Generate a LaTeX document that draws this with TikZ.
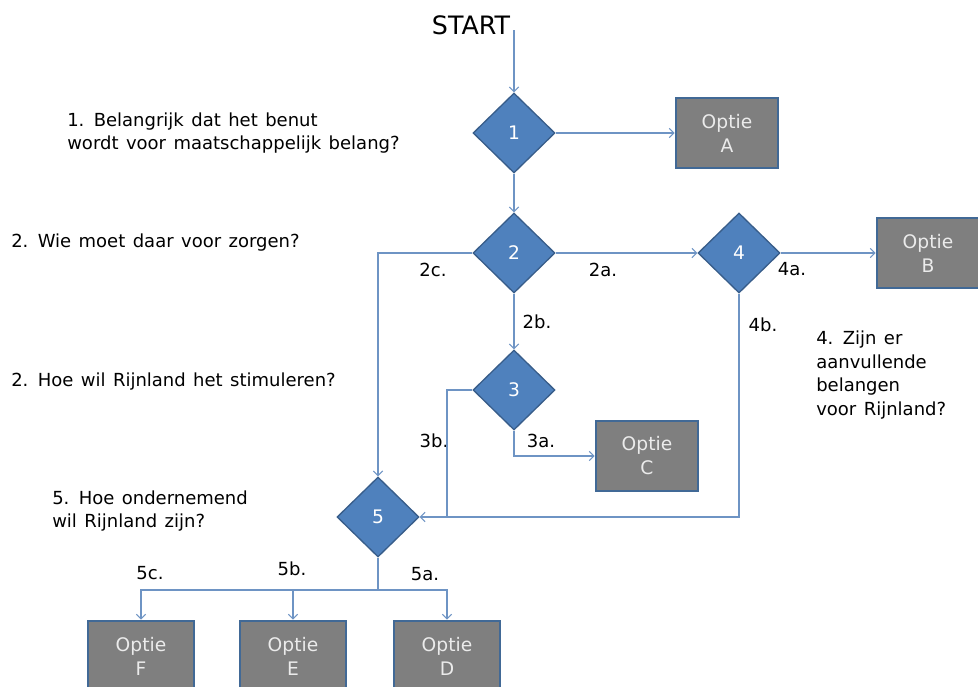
\documentclass[tikz,border=0pt]{standalone}
\usepackage{fontspec}
\setmainfont{DejaVu Sans}[WordSpace=1.3]
\usetikzlibrary{arrows, arrows.meta}
\usetikzlibrary{shapes.geometric}

\definecolor{vraagblauw}{RGB}{79,129,189}
\definecolor{vraagrand}{RGB}{56,93,138}
\definecolor{optiegrijs}{RGB}{127,127,127}
\definecolor{optierand}{RGB}{65,105,150}
\definecolor{lijnblauw}{RGB}{110,148,196}

\tikzset{
  vraag/.style={diamond, draw=vraagrand, fill=vraagblauw, line width=1pt, inner sep=0pt,
    minimum width=61.5pt, minimum height=60pt, text=white, font=\fontsize{14}{16}\selectfont},
  optie/.style={rectangle, draw=optierand, fill=optiegrijs, line width=1.5pt, inner sep=0pt,
    minimum width=77pt, minimum height=53pt, align=center, text=white!92!black,
    font=\fontsize{14}{18}\selectfont},
  tekst/.style={inner sep=0pt, align=left, font=\fontsize{13.5}{17.6}\selectfont},
  pijl/.style={draw=lijnblauw, line width=0.8pt, -{Straight Barb[length=3.5pt,width=7pt]}},
  lijn/.style={draw=lijnblauw, line width=0.8pt},
}

\begin{document}
\begin{tikzpicture}[x=0.75pt, y=-0.75pt]
    \useasboundingbox (0,0) rectangle (978,686);

    \node[inner sep=0pt, font=\fontsize{19}{21}\selectfont] (start) at (471,25) {START};
    \coordinate (s) at (514,30);

    \node[vraag] (1) at (514,133) {1};
    \node[vraag] (2) at (514,253) {2};
    \node[vraag] (3) at (514,390) {3};
    \node[vraag] (4) at (739,253) {4};
    \node[vraag] (5) at (378,517) {5};

    \node[optie] (A) at (727,133) {Optie\\A};
    \node[optie] (B) at (928,253) {Optie\\B};
    \node[optie] (C) at (647,456) {Optie\\C};
    \node[optie, minimum width=79pt] (F) at (141,656) {Optie\\F};
    \node[optie, minimum width=79pt] (E) at (293,656) {Optie\\E};
    \node[optie, minimum width=79pt] (D) at (447,656) {Optie\\D};

    \node[tekst, anchor=west] (q1) at (67,133) {1. Belangrijk dat het benut\\wordt voor maatschappelijk belang?};
    \node[tekst, anchor=west] (q2) at (11,243) {2. Wie moet daar voor zorgen?};
    \node[tekst, anchor=west] (q3) at (11,382) {2. Hoe wil Rijnland het stimuleren?};
    \node[tekst, anchor=west] (q4) at (816,375) {4. Zijn er\\aanvullende\\belangen\\voor Rijnland?};
    \node[tekst, anchor=west] (q5) at (52,511) {5. Hoe ondernemend\\wil Rijnland zijn?};

    \node[tekst] (l2a) at (603,270) {2a.};
    \node[tekst] (l2b) at (537,322) {2b.};
    \node[tekst] (l2c) at (433,270) {2c.};
    \node[tekst] (l3a) at (541,441) {3a.};
    \node[tekst] (l3b) at (434,441) {3b.};
    \node[tekst] (l4a) at (792,269) {4a.};
    \node[tekst] (l4b) at (763,325) {4b.};
    \node[tekst] (l5a) at (425,574) {5a.};
    \node[tekst] (l5b) at (292,569) {5b.};
    \node[tekst] (l5c) at (150,573) {5c.};

    \coordinate (m) at (447,517);
    \coordinate (v) at (378,590);

    \draw[pijl] (s) -- (1.north);
    \draw[pijl] (1.east) -- (A.west);
    \draw[pijl] (1.south) -- (2.north);
    \draw[pijl] (2.east) -- (4.west);
    \draw[pijl] (4.east) -- (B.west);
    \draw[pijl] (2.south) -- (3.north);
    \draw[pijl] (3.south) |- (C.west);
    \draw[pijl] (2.west) -| (5.north);
    \draw[lijn] (3.west) -| (m);
    \draw[pijl] (4.south) |- (5.east);
    \draw[lijn] (5.south) -- (v);
    \draw[pijl] (v) -| (F.north);
    \draw[pijl] (v) -| (E.north);
    \draw[pijl] (v) -| (D.north);
\end{tikzpicture}
\end{document}
